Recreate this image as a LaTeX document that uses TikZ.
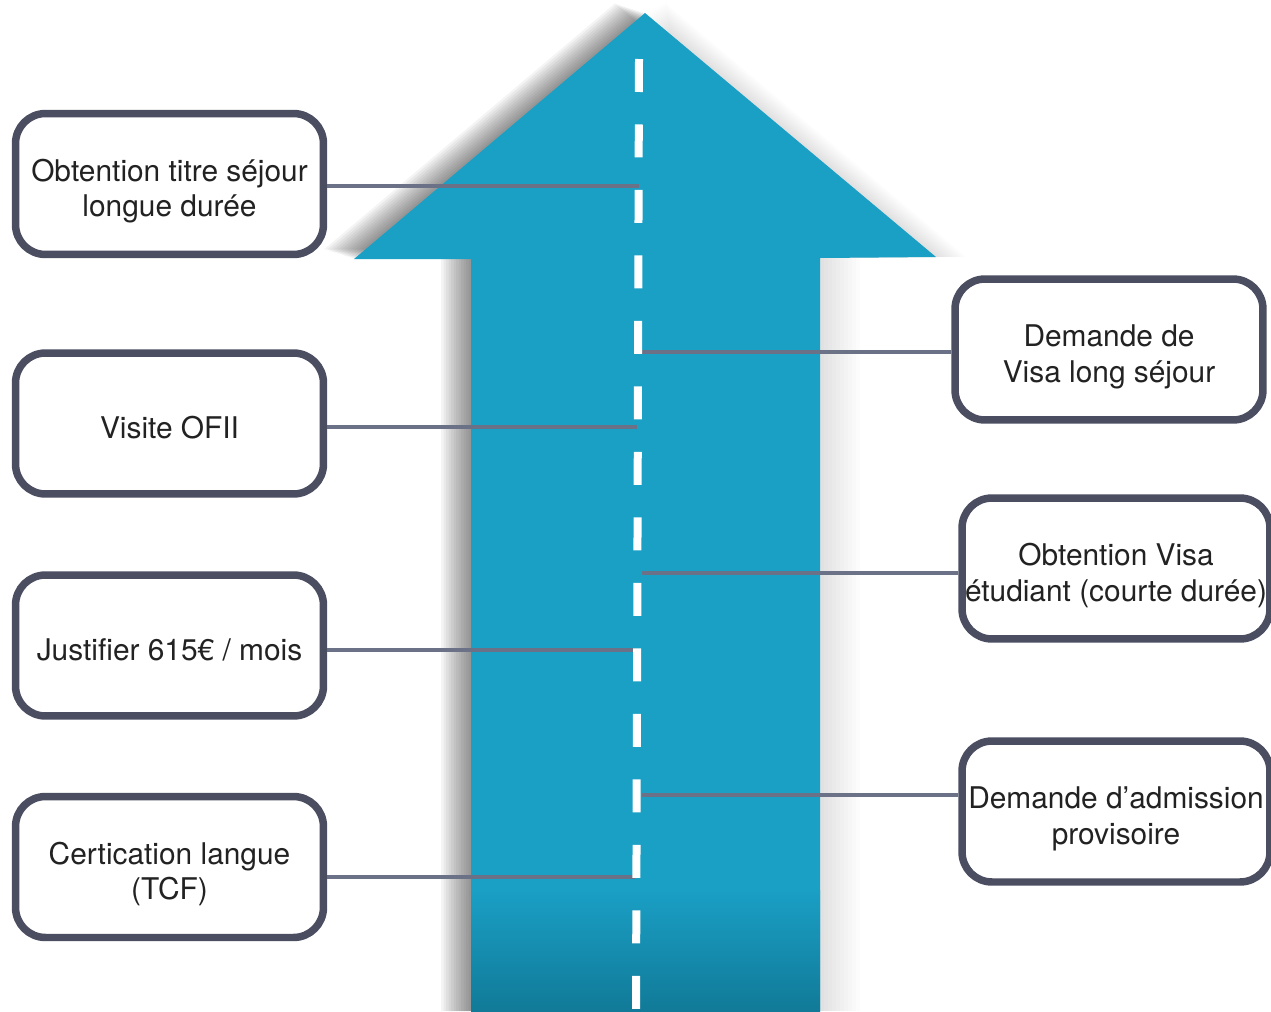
\documentclass[tikz,border=0pt]{standalone}
\usepackage{fontspec}
\setmainfont{TeX Gyre Heros}
\usetikzlibrary{calc, positioning}

\definecolor{roadblue}{HTML}{1A9FC5}
\definecolor{roaddark}{HTML}{117A98}
\definecolor{boxline}{HTML}{4B4D61}
\definecolor{linkgray}{HTML}{6B7287}
\definecolor{textdark}{HTML}{222222}

% text of a step, set a little lower in its box
\newcommand{\steplines}[1]{\raisebox{-4.5pt}[\height][\depth]{\begin{tabular}{@{}c@{}}#1\end{tabular}}}

\begin{document}
\begin{tikzpicture}[x=0.02cm, y=-0.02cm,
  stepbox/.style={draw=boxline, line width=0.15cm, rounded corners=0.6cm, fill=white, minimum width=6.16cm, minimum height=2.82cm, text=textdark, font=\fontsize{17}{20}\selectfont, inner sep=0pt},
  link/.style={draw=linkgray, line width=0.08cm},
  every path/.append style={line join=miter}]
  \useasboundingbox (0,0) rectangle (1271,1011);

  % shadow of the arrow
  \foreach \i in {1,...,12}
    \fill[black, opacity=0.045] ($(354,259)+(-2.5*\i,-0.8*\i)$) -- ($(645,13)+(-2.5*\i,-0.8*\i)$) -- ($(936,257)+(-2.5*\i,-0.8*\i)$) -- ($(820,258)+(-2.5*\i,-0.8*\i)$) -- ($(820,1011)+(-2.5*\i,0)$) -- ($(471,1011)+(-2.5*\i,0)$) -- ($(471,259)+(-2.5*\i,-0.8*\i)$) -- cycle;
  \foreach \i in {1,...,10}
    \fill[black, opacity=0.012] ($(645,13)+(2*\i,-\i)$) -- ($(936,257)+(3*\i,0)$) -- ($(820,258)+(4*\i,0)$) -- ($(820,1011)+(4*\i,0)$) -- (820,1011) -- cycle;

  % the arrow
  \fill[roadblue] (354,259) -- (645,13) -- (936,257) -- (820,258) -- (820,1011) -- (471,1011) -- (471,259) -- cycle;
  \shade[top color=roadblue, bottom color=roaddark] (471,890) rectangle (820,1011);

  \coordinate (top) at (639,59);
  \coordinate (bottom) at (636,1011);

  % steps
  \node[stepbox] (titre) at (169.5,184) {\steplines{Obtention titre séjour\\longue durée}};
  \node[stepbox] (ofii) at (169.5,423.5) {\steplines{Visite OFII}};
  \node[stepbox] (argent) at (169.5,645.5) {\steplines{Justifier 615€ / mois}};
  \node[stepbox] (tcf) at (169.5,867) {\steplines{Certication langue\\(TCF)}};
  \node[stepbox] (visalong) at (1109,349.5) {\steplines{Demande de\\Visa long séjour}};
  \node[stepbox] (visaetud) at (1116,568.5) {\steplines{Obtention Visa\\étudiant (courte durée)}};
  \node[stepbox] (admission) at (1116,811.5) {\steplines{Demande d’admission\\provisoire}};

  \draw[link] ($(titre.east)+(0,2)$) -- ($(titre.east -| top)+(0,2)$);
  \draw[link] ($(ofii.east)+(0,3.5)$) -- ($(ofii.east -| top)+(-2,3.5)$);
  \draw[link] ($(argent.east)+(0,4.5)$) -- ($(argent.east -| top)+(-4,4.5)$);
  \draw[link] ($(tcf.east)+(0,10)$) -- ($(tcf.east -| top)+(-4,10)$);
  \draw[link] ($(visalong.west)+(0,2.5)$) -- ($(visalong.west -| top)+(3,2.5)$);
  \draw[link] ($(visaetud.west)+(0,4.5)$) -- ($(visaetud.west -| top)+(3,4.5)$);
  \draw[link] ($(admission.west)+(0,-16.5)$) -- ($(admission.west -| top)+(3,-16.5)$);

  % road marking
  \draw[white, line width=0.16cm, dash pattern=on 0.66cm off 0.65cm] (top) -- (bottom);
\end{tikzpicture}
\end{document}
